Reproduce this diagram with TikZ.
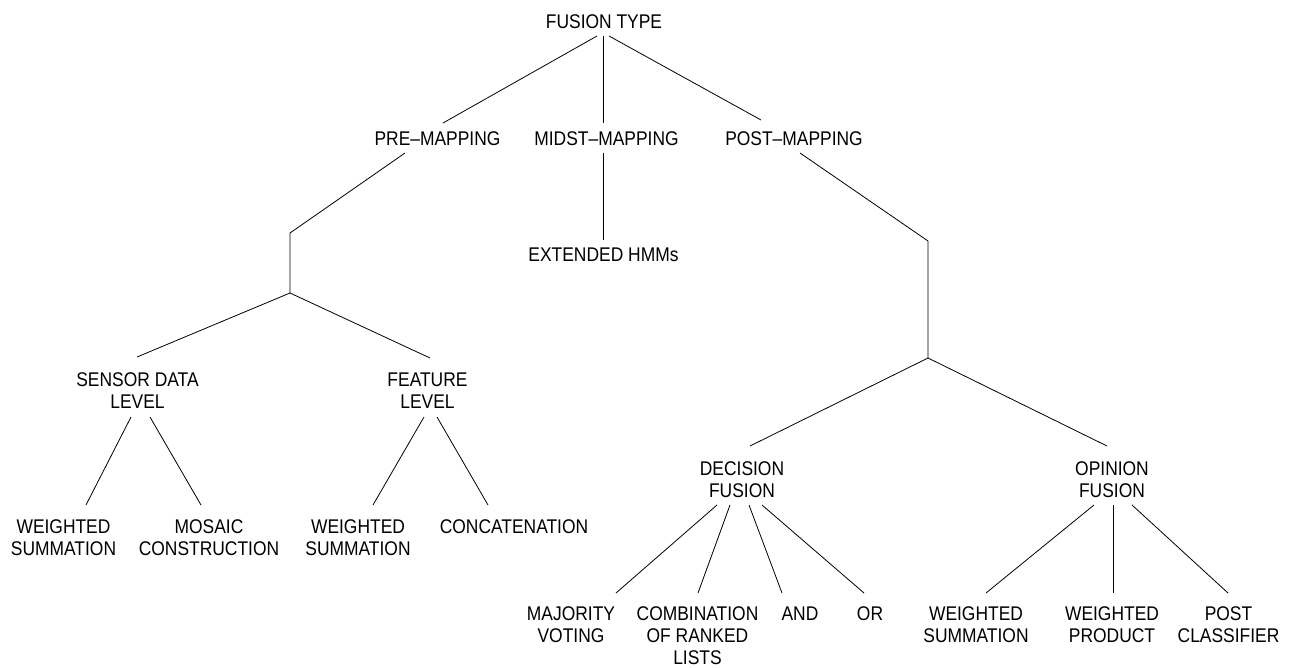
\documentclass[tikz,border=0pt]{standalone}
\usepackage{fontspec}
\setmainfont{Liberation Sans}[FakeStretch=0.88]
\begin{document}
\begin{tikzpicture}[x=1pt,y=-1pt,
  lbl/.style={inner sep=0pt, outer sep=0pt, align=center, anchor=north,
    font=\fontsize{19.8}{22}\selectfont},
  conn/.style={draw=black, line width=0.8pt}]
\useasboundingbox (0,0) rectangle (1292,668);
% nodes
\node[lbl] (ft)   at (604,15)   {FUSION TYPE};
\node[lbl] (pre)  at (437.5,132) {PRE–MAPPING};
\node[lbl] (mid)  at (606.5,132) {MIDST–MAPPING};
\node[lbl] (post) at (794,132)  {POST–MAPPING};
\node[lbl] (ext)  at (603.5,248) {EXTENDED HMMs};
\node[lbl] (sdl)  at (137.5,373) {SENSOR DATA\\LEVEL};
\node[lbl] (fl)   at (427.5,373) {FEATURE\\LEVEL};
\node[lbl] (ws1)  at (63.5,520) {WEIGHTED\\SUMMATION};
\node[lbl] (mc)   at (209,520)  {MOSAIC\\CONSTRUCTION};
\node[lbl] (ws2)  at (358,520)  {WEIGHTED\\SUMMATION};
\node[lbl] (cat)  at (514,520)  {CONCATENATION};
\node[lbl] (df)   at (742,462)  {DECISION\\FUSION};
\node[lbl] (of)   at (1112,462) {OPINION\\FUSION};
\node[lbl] (mv)   at (571,607)  {MAJORITY\\VOTING};
\node[lbl] (crl)  at (697.5,607) {COMBINATION\\OF RANKED\\LISTS};
\node[lbl] (and)  at (800,607)  {AND};
\node[lbl] (or)   at (870,607)  {OR};
\node[lbl] (ws3)  at (976,607)  {WEIGHTED\\SUMMATION};
\node[lbl] (wp)   at (1112,607) {WEIGHTED\\PRODUCT};
\node[lbl] (pc)   at (1228.5,607) {POST\\CLASSIFIER};
% junctions
\coordinate (j1) at (290,233);
\coordinate (j2) at (290,293);
\coordinate (j3) at (928,241);
\coordinate (j4) at (928,358);
% connectors (end points given relative to the node anchors)
\draw[conn] ([xshift=-7pt]ft.south |- 0,36) -- ([xshift=5.5pt]pre.north |- 0,123);
\draw[conn] ([xshift=-1pt]ft.south |- 0,36) -- ([xshift=-3.5pt]mid.north |- 0,123);
\draw[conn] ([xshift=5pt]ft.south |- 0,36) -- ([xshift=-33pt]post.north |- 0,120);
\draw[conn] ([xshift=-32.5pt]pre.south |- 0,153) -- (j1) -- (j2);
\draw[conn] (j2) -- ([xshift=-0.5pt]sdl.north |- 0,357);
\draw[conn] (j2) -- ([xshift=2.5pt]fl.north |- 0,358);
\draw[conn] ([xshift=-3.5pt]mid.south |- 0,153) -- ([xshift=-0.5pt]ext.north |- 0,240);
\draw[conn] ([xshift=6pt]post.south |- 0,153) -- (j3) -- (j4);
\draw[conn] (j4) -- ([xshift=8pt]df.north |- 0,446);
\draw[conn] (j4) -- ([xshift=-5pt]of.north |- 0,446);
\draw[conn] ([xshift=-6.5pt]sdl.south |- 0,417) -- ([xshift=22.5pt]ws1.north |- 0,505);
\draw[conn] ([xshift=12.5pt]sdl.south |- 0,417) -- ([xshift=-8pt]mc.north |- 0,505);
\draw[conn] ([xshift=-3.5pt]fl.south |- 0,417) -- ([xshift=15pt]ws2.north |- 0,505);
\draw[conn] ([xshift=9.5pt]fl.south |- 0,417) -- ([xshift=-26pt]cat.north |- 0,505);
\draw[conn] ([xshift=-25pt]df.south |- 0,505) -- ([xshift=45pt]mv.north |- 0,593);
\draw[conn] ([xshift=-12pt]df.south |- 0,505) -- ([xshift=0.5pt]crl.north |- 0,593);
\draw[conn] ([xshift=7pt]df.south |- 0,505) -- ([xshift=-18pt]and.north |- 0,593);
\draw[conn] ([xshift=20pt]df.south |- 0,505) -- ([xshift=-6pt]or.north |- 0,593);
\draw[conn] ([xshift=-18pt]of.south |- 0,505) -- ([xshift=10pt]ws3.north |- 0,593);
\draw[conn] ([xshift=1pt]of.south |- 0,505) -- ([xshift=1pt]wp.north |- 0,593);
\draw[conn] ([xshift=20pt]of.south |- 0,505) -- ([xshift=-0.5pt]pc.north |- 0,593);
\end{tikzpicture}
\end{document}
